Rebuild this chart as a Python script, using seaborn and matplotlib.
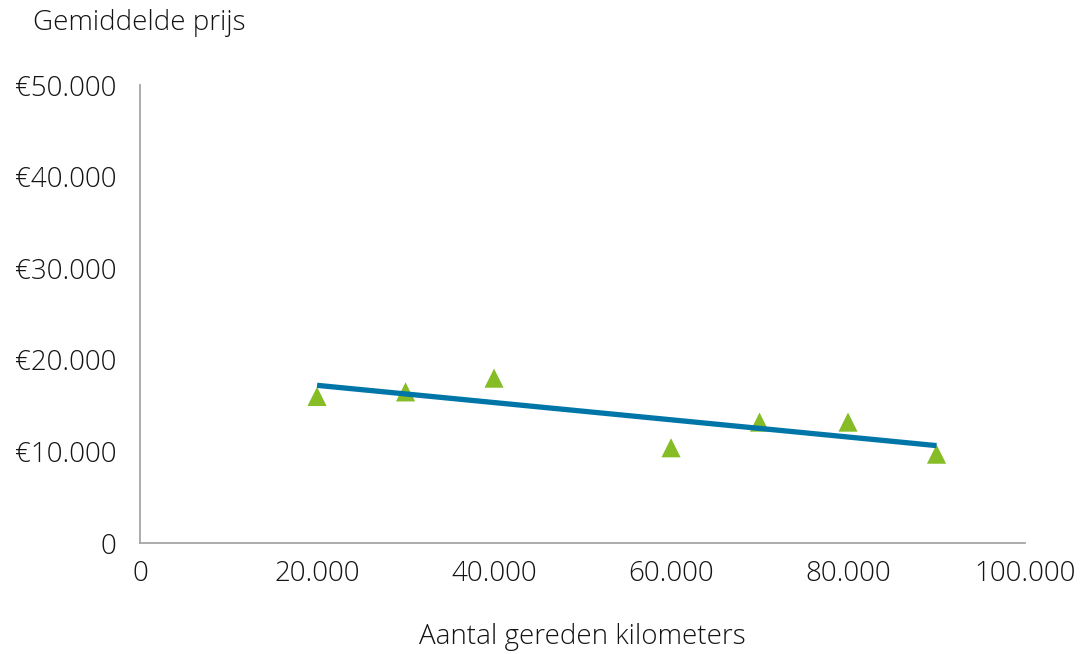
import matplotlib
matplotlib.use("Agg")
import matplotlib.pyplot as plt
import seaborn as sns
import pandas as pd
from matplotlib.ticker import FuncFormatter

# Kilometerstand en gemiddelde prijs per auto
kilometers = [20000, 30000, 40000, 60000, 70000, 80000, 90000]
prijs = [16000, 16500, 18000, 10400, 13200, 13200, 9700]

x_ticks = [0, 20000, 40000, 60000, 80000, 100000]
y_ticks = [0, 10000, 20000, 30000, 40000, 50000]

title_text = "Gemiddelde prijs"
x_label = "Aantal gereden kilometers"

GREEN = "#86BC25"
BLUE = "#0076A8"
AXIS_GREY = "#A6A6A6"
TEXT = "#141414"

sns.set_theme(style="white")
plt.rcParams["font.family"] = ["Open Sans", "DejaVu Sans"]
plt.rcParams["font.weight"] = "light"

df = pd.DataFrame({"km": kilometers, "prijs": prijs})

fig = plt.figure(figsize=(10.84, 6.54), dpi=100)
ax = fig.add_axes([0.1292, 0.1697, 0.8164, 0.7003])

sns.regplot(
    data=df, x="km", y="prijs", ax=ax, ci=None, truncate=True,
    marker="^",
    scatter_kws=dict(s=190, color=GREEN, edgecolors="none", zorder=2, alpha=1),
    line_kws=dict(color=BLUE, lw=3.8, zorder=3, solid_capstyle="butt"),
)

ax.set_xlim(0, 100000)
ax.set_ylim(0, 50000)
ax.set_xticks(x_ticks)
ax.set_yticks(y_ticks)


def dutch(v):
    return f"{int(v):,}".replace(",", ".")


ax.xaxis.set_major_formatter(FuncFormatter(lambda v, p: dutch(v)))
ax.yaxis.set_major_formatter(FuncFormatter(lambda v, p: "0" if v == 0 else "€" + dutch(v)))

ax.tick_params(axis="both", length=0, labelsize=20, labelcolor=TEXT)
ax.tick_params(axis="x", pad=12)
ax.tick_params(axis="y", pad=17)

for side in ["top", "right"]:
    ax.spines[side].set_visible(False)
for side in ["left", "bottom"]:
    ax.spines[side].set_color(AXIS_GREY)
    ax.spines[side].set_linewidth(1.3)

ax.set_xlabel("")
ax.set_ylabel("")
ax.grid(False)

fig.text(0.030, 0.965, title_text, fontsize=20, color=TEXT, ha="left", va="center")
fig.text(0.537, 0.026, x_label, fontsize=20, color=TEXT, ha="center", va="center")

fig.savefig("out.png", dpi=100, facecolor="white")
